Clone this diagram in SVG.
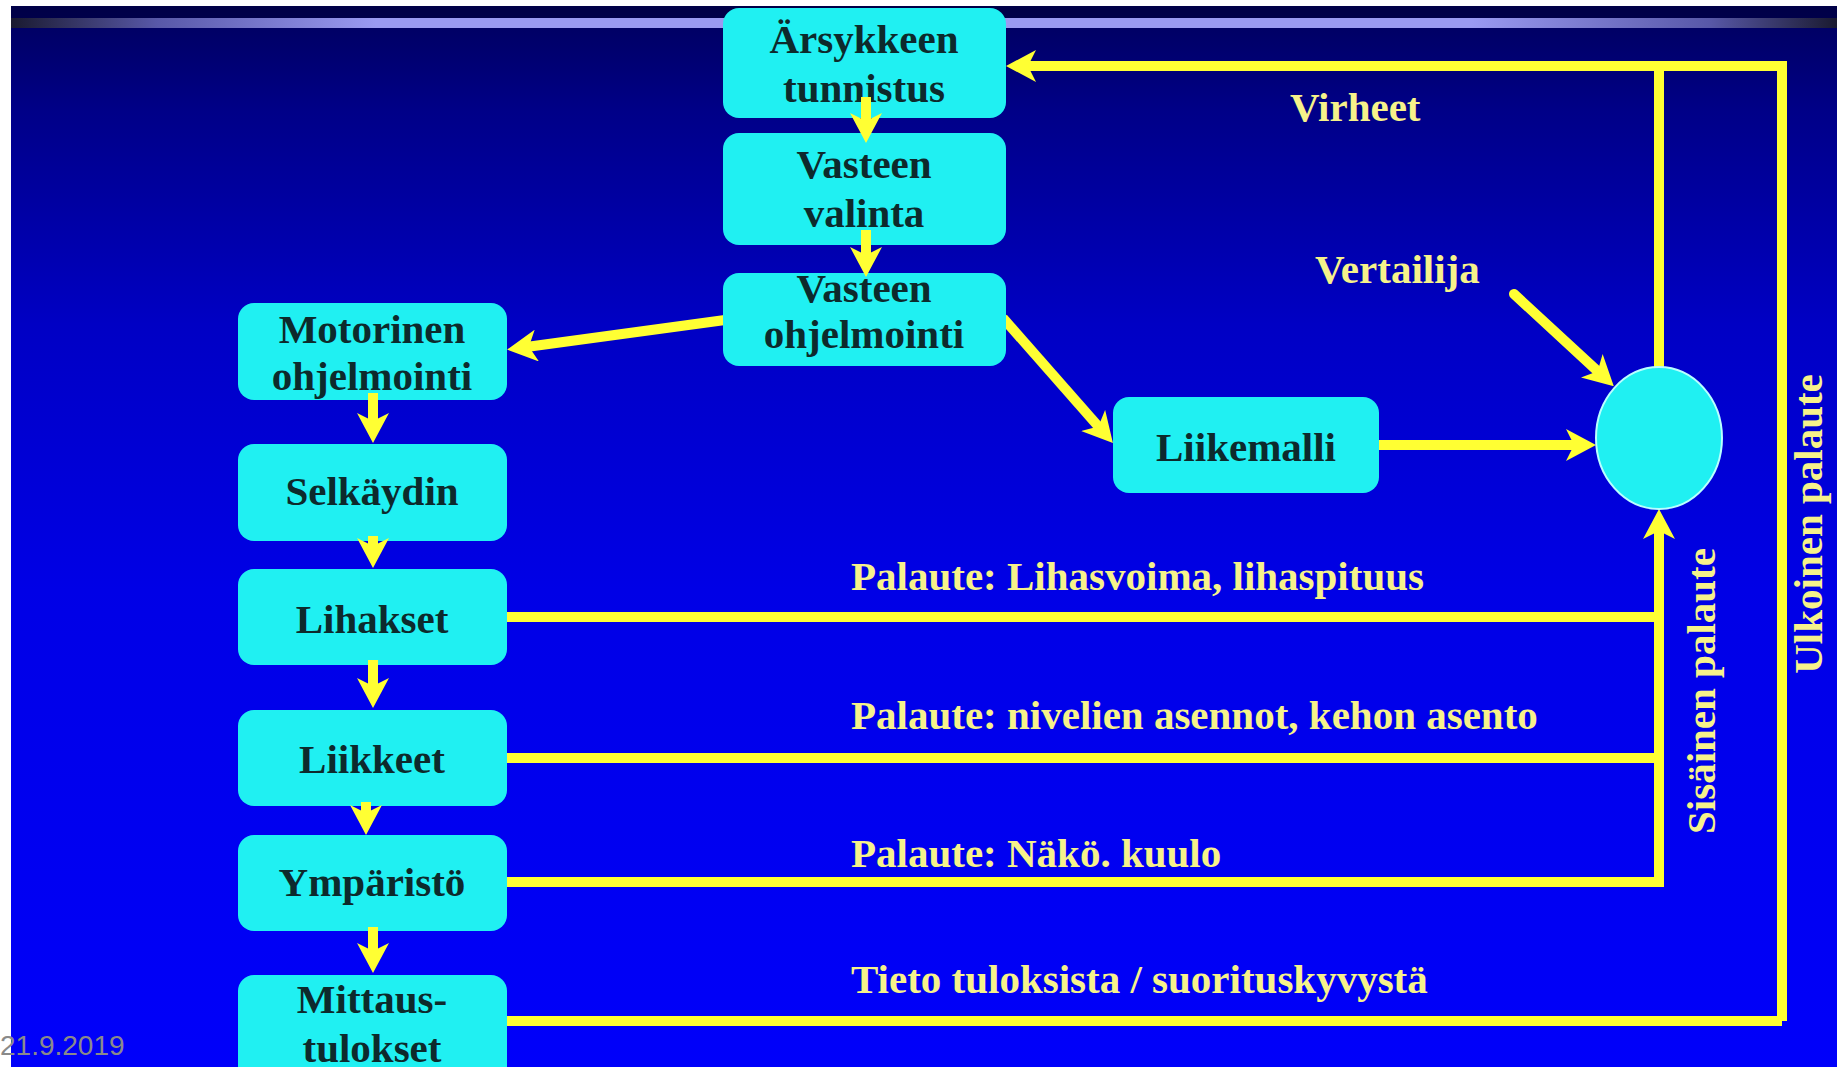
<svg xmlns="http://www.w3.org/2000/svg" width="1837" height="1069" viewBox="0 0 1837 1069">
  <defs>
    <linearGradient id="bg" x1="0" y1="0" x2="0" y2="1">
      <stop offset="0" stop-color="#00005c"/>
      <stop offset="0.1" stop-color="#000088"/>
      <stop offset="0.3" stop-color="#0000c4"/>
      <stop offset="0.55" stop-color="#0000e6"/>
      <stop offset="1" stop-color="#0000fa"/>
    </linearGradient>
    <linearGradient id="band" x1="0" y1="0" x2="1" y2="0">
      <stop offset="0" stop-color="#1a1a30"/>
      <stop offset="0.08" stop-color="#5858a8"/>
      <stop offset="0.2" stop-color="#9a9af2"/>
      <stop offset="0.8" stop-color="#9a9af2"/>
      <stop offset="0.93" stop-color="#5858a8"/>
      <stop offset="1" stop-color="#1a1a30"/>
    </linearGradient>
    <marker id="ah" markerUnits="userSpaceOnUse" markerWidth="30" markerHeight="32" viewBox="0 0 30 32" refX="18" refY="16" orient="auto">
      <path d="M0,0 L30,16 L0,32 L8,16 z" fill="#ffff33"/>
    </marker>
    <style>
      .box { fill: #20f0f2; }
      .bt { font-family: "Liberation Serif", "Times New Roman", serif; font-weight: bold; font-size: 41px; fill: #0d2a2c; text-anchor: middle; }
      .lbl { font-family: "Liberation Serif", "Times New Roman", serif; font-weight: bold; font-size: 41px; fill: #f6f28a; }
      .conn { fill: none; stroke: #ffff33; stroke-width: 10; }
      .date { font-family: "Liberation Sans", Arial, sans-serif; font-size: 28px; fill: #8a8a8a; }
    </style>
  </defs>

  <rect x="0" y="0" width="1837" height="1069" fill="#ffffff"/>
  <rect x="11" y="6" width="1826" height="1061" fill="url(#bg)"/>
  <rect x="11" y="6" width="1826" height="12" fill="#00003a" opacity="0.6"/>
  <rect x="11" y="18" width="1826" height="10" fill="url(#band)"/>

  <g id="connectors">
    <path class="conn" d="M1782,1021 L1782,66 L1018,66" marker-end="url(#ah)"/>
    <path class="conn" d="M1659,367 L1659,66"/>
    <path class="conn" d="M507,1021 L1782,1021"/>
    <path class="conn" d="M507,617 L1659,617"/>
    <path class="conn" d="M507,758 L1659,758"/>
    <path class="conn" d="M507,882 L1659,882 L1659,521" marker-end="url(#ah)"/>
    <path class="conn" d="M1379,445 L1584,445" marker-end="url(#ah)"/>
    <path class="conn" d="M1514,294 L1605,378" stroke-linecap="round" marker-end="url(#ah)"/>
    <path class="conn" d="M725,320 L519,348" marker-end="url(#ah)"/>
    <path class="conn" d="M1003,318 L1105,434" marker-end="url(#ah)"/>
  </g>

  <g id="n-arsyke"><rect class="box" x="723" y="8" width="283" height="110" rx="16"/>
    <text class="bt" x="864" y="53">Ärsykkeen</text><text class="bt" x="864" y="102">tunnistus</text></g>
  <g id="n-valinta"><rect class="box" x="723" y="133" width="283" height="112" rx="16"/>
    <text class="bt" x="864" y="178">Vasteen</text><text class="bt" x="864" y="227">valinta</text></g>
  <g id="n-ohjelmointi"><rect class="box" x="723" y="273" width="283" height="93" rx="16"/>
    <text class="bt" x="864" y="302">Vasteen</text><text class="bt" x="864" y="348">ohjelmointi</text></g>
  <g id="n-motorinen"><rect class="box" x="238" y="303" width="269" height="97" rx="16"/>
    <text class="bt" x="372" y="343">Motorinen</text><text class="bt" x="372" y="390">ohjelmointi</text></g>
  <g id="n-selkaydin"><rect class="box" x="238" y="444" width="269" height="97" rx="16"/>
    <text class="bt" x="372" y="505">Selkäydin</text></g>
  <g id="n-lihakset"><rect class="box" x="238" y="569" width="269" height="96" rx="16"/>
    <text class="bt" x="372" y="633">Lihakset</text></g>
  <g id="n-liikkeet"><rect class="box" x="238" y="710" width="269" height="96" rx="16"/>
    <text class="bt" x="372" y="773">Liikkeet</text></g>
  <g id="n-ymparisto"><rect class="box" x="238" y="835" width="269" height="96" rx="16"/>
    <text class="bt" x="372" y="896">Ympäristö</text></g>
  <g id="n-mittaus"><rect class="box" x="238" y="975" width="269" height="110" rx="16"/>
    <text class="bt" x="372" y="1013">Mittaus-</text><text class="bt" x="372" y="1062">tulokset</text></g>
  <g id="n-liikemalli"><rect class="box" x="1113" y="397" width="266" height="96" rx="16"/>
    <text class="bt" x="1246" y="461">Liikemalli</text></g>
  <g id="n-vertailija"><ellipse class="box" cx="1659" cy="438" rx="63" ry="71" stroke="#b8ffff" stroke-width="2"/></g>

  <g id="vertical-arrows">
    <path class="conn" d="M866,97 L866,131" marker-end="url(#ah)"/>
    <path class="conn" d="M866,230 L866,265" marker-end="url(#ah)"/>
    <path class="conn" d="M373,393 L373,431" marker-end="url(#ah)"/>
    <path class="conn" d="M373,536 L373,556" marker-end="url(#ah)"/>
    <path class="conn" d="M373,660 L373,696" marker-end="url(#ah)"/>
    <path class="conn" d="M366,802 L366,823" marker-end="url(#ah)"/>
    <path class="conn" d="M373,927 L373,961" marker-end="url(#ah)"/>
  </g>

  <g id="labels">
    <text class="lbl" x="1290" y="121" font-size="40">Virheet</text>
    <text class="lbl" x="1315" y="283" font-size="40">Vertailija</text>
    <text class="lbl" x="851" y="590">Palaute: Lihasvoima, lihaspituus</text>
    <text class="lbl" x="851" y="729">Palaute: nivelien asennot, kehon asento</text>
    <text class="lbl" x="851" y="867">Palaute: Näkö. kuulo</text>
    <text class="lbl" x="851" y="993">Tieto tuloksista / suorituskyvystä</text>
    <text class="lbl" transform="translate(1715,691) rotate(-90)" text-anchor="middle">Sisäinen palaute</text>
    <text class="lbl" transform="translate(1822,524) rotate(-90)" text-anchor="middle">Ulkoinen palaute</text>
  </g>

  <rect x="0" y="1067" width="1837" height="2" fill="#ffffff"/>
  <text class="date" x="0" y="1055">21.9.2019</text>
</svg>
